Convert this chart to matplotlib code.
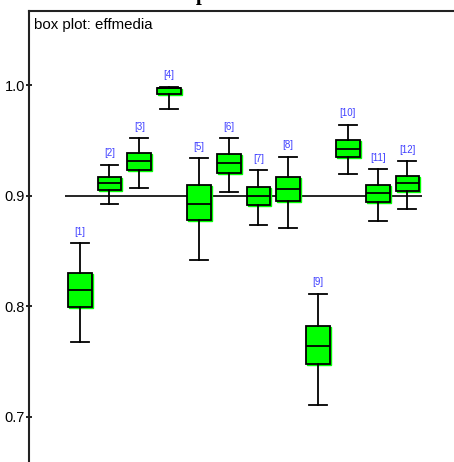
import matplotlib
matplotlib.use("Agg")
import matplotlib.pyplot as plt
import matplotlib.transforms as mtransforms
from matplotlib.patches import PathPatch

# group labels and five-number summaries of effmedia per group
labels = ["[1]", "[2]", "[3]", "[4]", "[5]", "[6]", "[7]", "[8]", "[9]", "[10]", "[11]", "[12]"]
whislo = [0.768, 0.8925, 0.907, 0.978, 0.842, 0.9036, 0.8732, 0.8711, 0.7108, 0.9193, 0.8771, 0.8877]
q1 = [0.7991, 0.9049, 0.923, 0.9924, 0.8783, 0.9208, 0.8916, 0.8949, 0.7476, 0.9353, 0.894, 0.904]
med = [0.815, 0.9112, 0.9314, 0.9970, 0.8925, 0.9293, 0.900, 0.9058, 0.7638, 0.9425, 0.9027, 0.9112]
q3 = [0.8304, 0.9169, 0.9386, 0.9977, 0.9097, 0.9374, 0.9081, 0.9166, 0.7822, 0.9506, 0.9094, 0.9178]
whishi = [0.8572, 0.928, 0.9524, 0.9987, 0.9338, 0.9524, 0.923, 0.9353, 0.8114, 0.9642, 0.9241, 0.9314]
ref_level = 0.9

plt.rcParams["font.family"] = ["Liberation Sans", "DejaVu Sans"]

fig = plt.figure(figsize=(4.54, 4.62), dpi=100)
ax = fig.add_axes([0.0639, -0.0461, 0.9648, 1.0223])

stats = []
for i in range(len(labels)):
    stats.append({"whislo": whislo[i], "q1": q1[i], "med": med[i],
                  "q3": q3[i], "whishi": whishi[i], "fliers": []})
positions = list(range(1, len(labels) + 1))

ax.hlines(ref_level, 0.5, len(labels) + 0.5, color="black", lw=1.2, zorder=1)

lw = 1.3
parts = ax.bxp(stats, positions=positions, widths=0.8, patch_artist=True,
               showfliers=False, manage_ticks=False,
               boxprops=dict(facecolor="#00ff00", edgecolor="black", linewidth=lw),
               medianprops=dict(color="black", linewidth=lw),
               whiskerprops=dict(color="black", linewidth=lw),
               capprops=dict(color="black", linewidth=lw),
               capwidths=0.6, zorder=3)

# thin green fringe slightly offset from each box
shift = mtransforms.offset_copy(ax.transData, fig=fig, x=1, y=-1, units="dots")
for box in parts["boxes"]:
    ax.add_patch(PathPatch(box.get_path(), transform=shift, facecolor="#00ff00",
                           edgecolor="#00ff00", linewidth=1, zorder=2.5))

for x, top, lab in zip(positions, whishi, labels):
    ax.annotate(lab, (x, top), xytext=(0, 4.5), textcoords="offset points",
                ha="center", va="bottom", fontsize=7, color="#4040ff")

ax.set_xlim(-0.7, 14)
ax.set_ylim(0.64, 1.067)
ax.set_yticks([0.7, 0.8, 0.9, 1.0])
ax.set_yticklabels(["0.7", "0.8", "0.9", "1.0"])
ax.set_xticks([])
ax.tick_params(axis="y", direction="inout", length=5, width=1.2, labelsize=10.5, pad=0.5)
for side in ["left", "top"]:
    ax.spines[side].set_linewidth(1.5)
    ax.spines[side].set_color("#222222")
ax.spines["right"].set_visible(False)
ax.spines["bottom"].set_visible(False)

ax.text(0.012, 0.985, "box plot: effmedia", transform=ax.transAxes,
        ha="left", va="top", fontsize=10.8)

# figure title sits mostly above the top edge
fig.text(0.432, 1.0, "Boxplot", ha="center", va="baseline",
         fontsize=15, fontweight="bold", family="Liberation Serif")

fig.savefig("out.png", dpi=100)
plt.close(fig)
